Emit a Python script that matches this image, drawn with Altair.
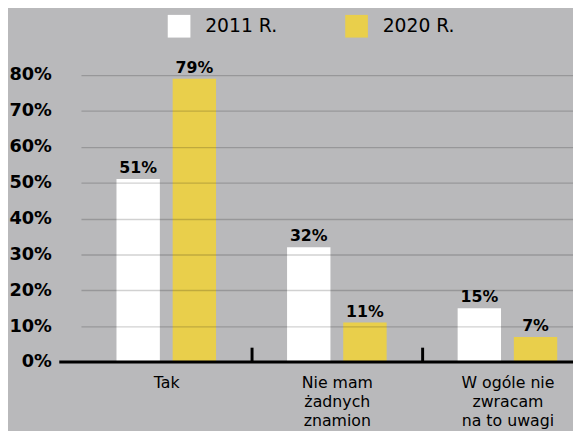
import altair as alt
import pandas as pd

categories = ["Tak", "Nie mam\nżadnych\nznamion", "W ogóle nie\nzwracam\nna to uwagi"]
series = ["2011 R.", "2020 R."]
values_2011 = [0.51, 0.32, 0.15]
values_2020 = [0.79, 0.11, 0.07]
y_ticks = [0, 0.1, 0.2, 0.3, 0.4, 0.5, 0.6, 0.7, 0.8]

rows = []
for c, a, b in zip(categories, values_2011, values_2020):
    rows.append({"cat": c, "year": series[0], "v": a})
    rows.append({"cat": c, "year": series[1], "v": b})
df = pd.DataFrame(rows)

FONT = "DejaVu Sans"
BG = "#b9b9bb"
YELLOW = "#e9cf4b"

x_axis = alt.Axis(
    title=None,
    domain=False,
    labelAngle=0,
    labelExpr="split(datum.label, '\\n')",
    labelFontSize=16,
    labelFont=FONT,
    labelColor="black",
    labelLineHeight=19,
    labelPadding=13,
    labelOffset=-86.5,
    tickOffset=86.5,
    tickSize=15,
    tickWidth=3,
    tickColor="black",
    offset=-15,
    grid=False,
)
x_scale = alt.Scale(range=[22, 541], paddingInner=0, paddingOuter=0)
xo_scale = alt.Scale(paddingInner=0.228, paddingOuter=0.632)
y_scale = alt.Scale(domain=[0, 0.8], nice=False)
y_axis = alt.Axis(
    title=None,
    format=".0%",
    values=y_ticks,
    labelOverlap=False,
    domain=False,
    ticks=False,
    labelFont=FONT,
    labelFontSize=18,
    labelFontWeight="bold",
    labelColor="black",
    labelPadding=8,
    gridColor="black",
    gridOpacity=0.18,
    gridWidth=1.3,
    zindex=1,
)

x_enc = alt.X("cat:N", sort=categories, scale=x_scale, axis=x_axis)
xo_enc = alt.XOffset("year:N", sort=series, scale=xo_scale)
y_enc = alt.Y("v:Q", scale=y_scale, axis=y_axis)

bars = alt.Chart(df).mark_bar().encode(
    x=x_enc,
    xOffset=xo_enc,
    y=y_enc,
    color=alt.Color(
        "year:N",
        sort=series,
        scale=alt.Scale(domain=series, range=["#ffffff", YELLOW]),
        legend=alt.Legend(
            title=None,
            orient="none",
            legendX=110,
            legendY=-61,
            direction="horizontal",
            symbolType="square",
            symbolSize=529,
            symbolStrokeWidth=0,
            symbolOpacity=1,
            labelFont=FONT,
            labelFontSize=19,
            labelColor="black",
            labelOffset=15,
            columnPadding=69,
        ),
    ),
)

labels = alt.Chart(df).mark_text(
    baseline="alphabetic", dy=-6, font=FONT, fontSize=16, fontWeight="bold", color="black"
).encode(
    x=x_enc,
    xOffset=xo_enc,
    y=y_enc,
    text=alt.Text("v:Q", format=".0%"),
)

base_line = (
    alt.Chart(df)
    .transform_aggregate(v="min(v)")
    .transform_calculate(v="0")
    .mark_rule(color="black", strokeWidth=3)
    .encode(y=y_enc)
)

chart = (
    alt.layer(bars, labels, base_line)
    .properties(
        width=521,
        height=291,
        background=BG,
        autosize=alt.AutoSizeParams(type="none"),
        padding={"left": 52, "top": 65, "right": 0, "bottom": 67},
    )
    .configure_view(stroke=None)
)

chart.save("out.html", embed_options={"renderer": "svg", "actions": False})
